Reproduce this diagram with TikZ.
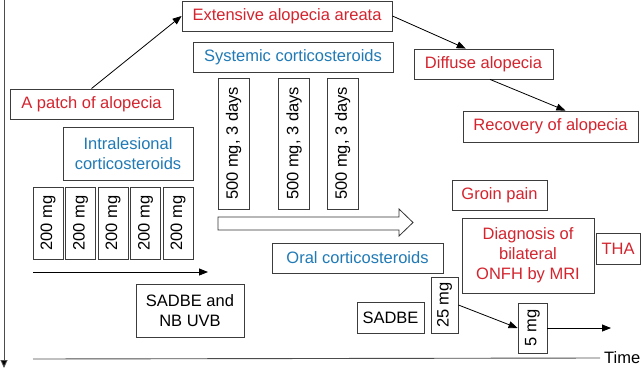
\documentclass[tikz,border=0pt]{standalone}
\usepackage{fontspec}
\setmainfont{Liberation Sans}
\usetikzlibrary{arrows.meta,calc}
\definecolor{evred}{RGB}{212,36,46}
\definecolor{txblue}{RGB}{32,122,182}
\definecolor{edge}{RGB}{60,60,60}
\begin{document}
\begin{tikzpicture}[x=1pt,y=-1pt,
  every node/.style={font=\fontsize{16.5}{19.8}\selectfont, inner sep=0pt, align=center},
  box/.style={draw=edge, line width=0.9pt, fill=white},
  event/.style={box, text=evred},
  therapy/.style={box, text=txblue},
  dose/.style={box, text=black, rotate=90},
  tip/.style={-{Triangle[length=9pt,width=7pt]}, line width=0.8pt, black},
  axis/.style={line width=0.9pt, draw=black!70}]
\useasboundingbox (0,0) rectangle (642,370);

% axes
\coordinate (vtop) at (4,0);
\coordinate (vbot) at (4,368);
\draw[axis, -{Triangle[length=8pt,width=7pt,fill=black]}] (vtop) -- (vbot);
\node[anchor=west, inner xsep=4pt] (time) at (600,358) {Time};
\coordinate (tstart) at (33,359);
\draw[axis] (tstart) -- (time.west);

% disease course
\node[event, minimum width=163pt, minimum height=30pt] (patch) at (91.5,104) {A patch of alopecia};
\node[event, minimum width=210pt, minimum height=30pt] (extensive) at (287,16) {Extensive alopecia areata};
\node[event, minimum width=139pt, minimum height=30pt] (diffuse) at (483.5,64) {Diffuse alopecia};
\node[event, minimum width=175pt, minimum height=31pt] (recovery) at (550.5,126.5) {Recovery of alopecia};
\draw[tip] (patch.north) -- (extensive.west);
\draw[tip] (extensive.east) -- (diffuse.139);
\draw[tip] (diffuse.293) -- (recovery.47);

% intralesional injections
\node[therapy, minimum width=130pt, minimum height=53pt] (intra) at (128,153.5) {Intralesional\\corticosteroids};
\foreach \i/\x in {1/48,2/80.5,3/113,4/145.5,5/178}
  \node[dose, minimum width=72pt, minimum height=30pt] (il\i) at (\x,223) {200 mg};
\coordinate (ilA) at (33,272);
\coordinate (ilB) at (208,272);
\draw[tip] (ilA) -- (ilB);
\node[box, minimum width=108pt, minimum height=53pt] (sadbenb) at (190,310.5) {SADBE and\\NB UVB};

% pulse therapy
\node[therapy, minimum width=200pt, minimum height=30pt] (systemic) at (293,57) {Systemic corticosteroids};
\foreach \i/\x in {1/233.5,2/294,3/342.5}
  \node[dose, minimum width=131pt, minimum height=31pt] (pulse\i) at (\x,143.5) {500 mg, 3 days};
\draw[line width=0.8pt, draw=black!80, fill=white]
  (218,217) -- (399,217) -- (399,209) -- (413,222.5) -- (399,236) -- (399,230) -- (218,230) -- cycle;

% oral therapy
\node[therapy, minimum width=171pt, minimum height=30pt] (oral) at (357.5,258) {Oral corticosteroids};
\node[box, minimum width=67pt, minimum height=31pt] (sadbe) at (390.5,317.5) {SADBE};
\node[dose, minimum width=56pt, minimum height=27pt] (d25) at (444.5,305) {25 mg};
\node[dose, minimum width=50pt, minimum height=29pt] (d5) at (532.5,328) {5 mg};
\coordinate (oralend) at (611,328);
\draw[tip] (d25.south) -- (d5.north);
\draw[tip] (d5.south) -- (oralend);

% complication
\node[event, minimum width=95pt, minimum height=30pt] (groin) at (499.5,195) {Groin pain};
\node[event, minimum width=132pt, minimum height=75pt] (onfh) at (528,255.5) {Diagnosis of\\bilateral\\ONFH by MRI};
\node[event, minimum width=44pt, minimum height=31pt] (tha) at (618,248.5) {THA};
\end{tikzpicture}
\end{document}
